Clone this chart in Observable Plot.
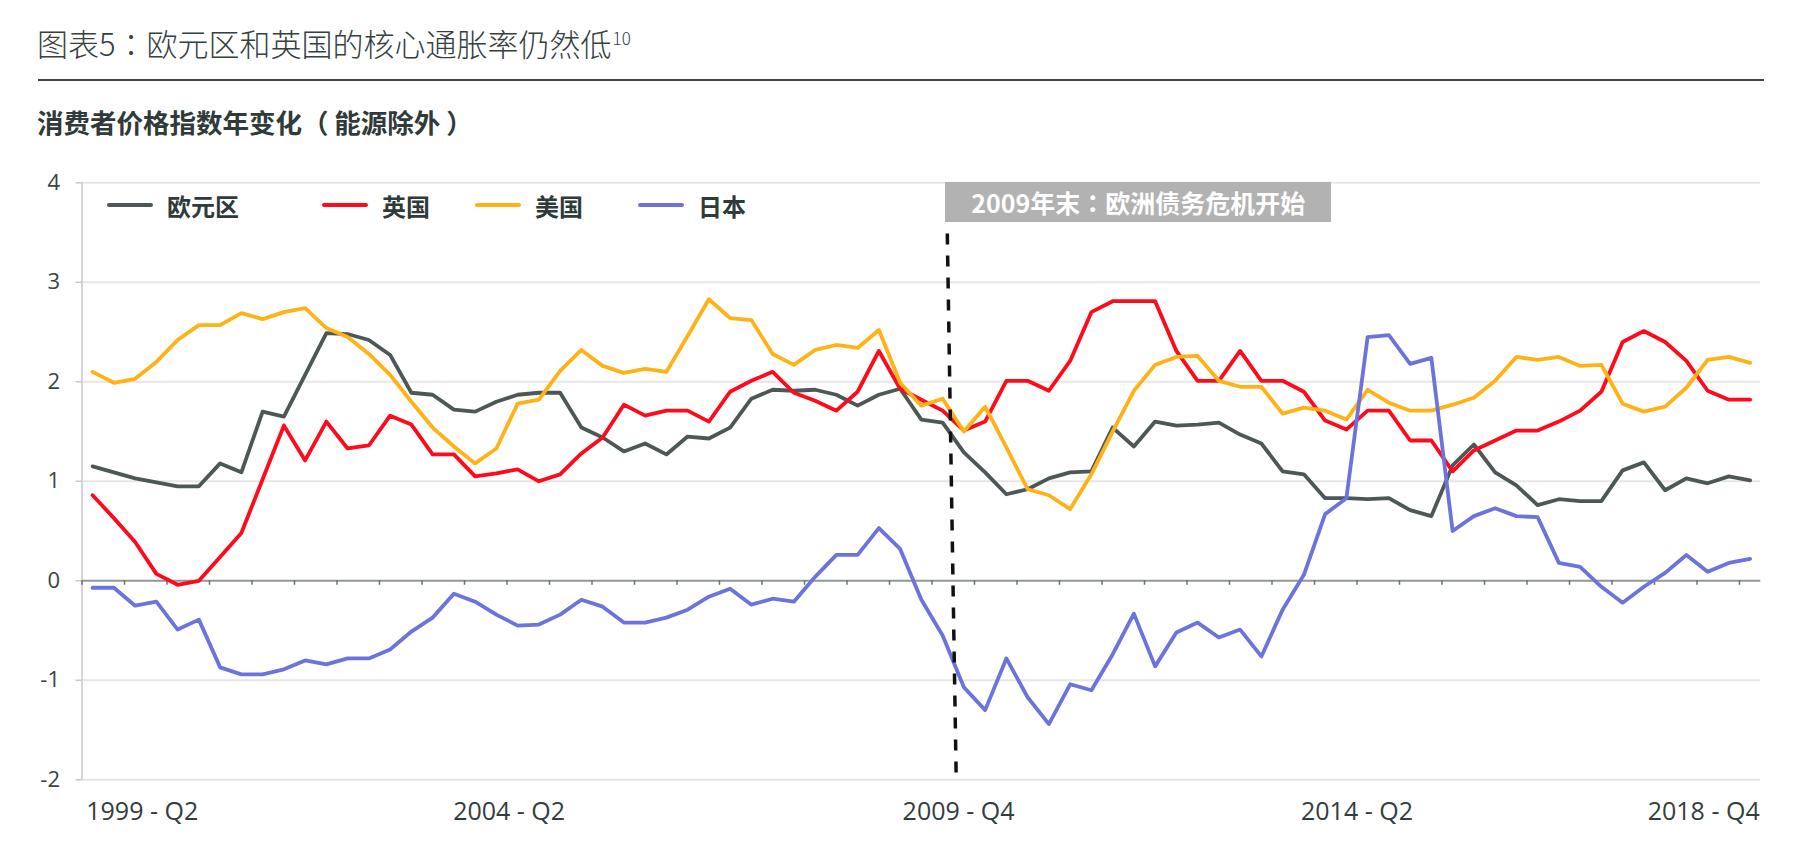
<!DOCTYPE html>
<html>
<head>
<meta charset="utf-8">
<script src="https://cdn.jsdelivr.net/npm/d3@7"></script>
<script src="https://cdn.jsdelivr.net/npm/@observablehq/plot@0.6"></script>
<style>
  html, body { margin: 0; padding: 0; background: #fff; }
  body { width: 1801px; height: 851px; overflow: hidden; position: relative; font-family: "Noto Sans CJK SC", sans-serif; }
  #title { position: absolute; left: 37px; top: 26px; font-size: 31px; font-weight: 300; color: #35403f; line-height: 34px; white-space: nowrap; }
  #title sup { font-size: 17px; vertical-align: top; position: relative; top: -5px; margin-left: 1px; }
  #rule { position: absolute; left: 38px; top: 79px; width: 1726px; height: 2px; background: #3c4747; }
  #subtitle { position: absolute; left: 37px; top: 106px; font-size: 26.5px; font-weight: 700; color: #2f3a3a; line-height: 32px; white-space: nowrap; }
  #chart { position: absolute; left: 0; top: 140px; }
  .lg { position: absolute; display: flex; align-items: center; height: 34px; font-size: 24px; font-weight: 700; color: #2f3a3a; white-space: nowrap; }
  .lg .sw { width: 46px; height: 4.5px; border-radius: 2px; margin-right: 14px; }
  #note { position: absolute; background: #b2b2b2; color: #fff; font-weight: 700; font-size: 25px; height: 40px; line-height: 40px; width: 386px; text-align: center; white-space: nowrap; }
  .tc { font-family: "Noto Sans CJK TC", "Noto Sans CJK SC", sans-serif; }
  .lp { margin-right: 0.22em; }
  .rp { margin-left: 0.22em; }
</style>
</head>
<body>
<div id="title"></div>
<div id="rule"></div>
<div id="subtitle"></div>
<div id="chart"></div>
<script>
// ---------- data ----------
const title = "图表5：欧元区和英国的核心通胀率仍然低";
const titleNote = "10";
const subtitle = "消费者价格指数年变化（能源除外）";

const quarters = [
  "1999 - Q2","1999 - Q3","1999 - Q4",
  "2000 - Q1","2000 - Q2","2000 - Q3","2000 - Q4",
  "2001 - Q1","2001 - Q2","2001 - Q3","2001 - Q4",
  "2002 - Q1","2002 - Q2","2002 - Q3","2002 - Q4",
  "2003 - Q1","2003 - Q2","2003 - Q3","2003 - Q4",
  "2004 - Q1","2004 - Q2","2004 - Q3","2004 - Q4",
  "2005 - Q1","2005 - Q2","2005 - Q3","2005 - Q4",
  "2006 - Q1","2006 - Q2","2006 - Q3","2006 - Q4",
  "2007 - Q1","2007 - Q2","2007 - Q3","2007 - Q4",
  "2008 - Q1","2008 - Q2","2008 - Q3","2008 - Q4",
  "2009 - Q1","2009 - Q2","2009 - Q3","2009 - Q4",
  "2010 - Q1","2010 - Q2","2010 - Q3","2010 - Q4",
  "2011 - Q1","2011 - Q2","2011 - Q3","2011 - Q4",
  "2012 - Q1","2012 - Q2","2012 - Q3","2012 - Q4",
  "2013 - Q1","2013 - Q2","2013 - Q3","2013 - Q4",
  "2014 - Q1","2014 - Q2","2014 - Q3","2014 - Q4",
  "2015 - Q1","2015 - Q2","2015 - Q3","2015 - Q4",
  "2016 - Q1","2016 - Q2","2016 - Q3","2016 - Q4",
  "2017 - Q1","2017 - Q2","2017 - Q3","2017 - Q4",
  "2018 - Q1","2018 - Q2","2018 - Q3","2018 - Q4"
];

const seriesNames = ["欧元区", "英国", "美国", "日本"];
const seriesColors = ["#4e5757", "#ff0a1c", "#ffb216", "#6c74dc"];

const euroArea = [
  1.15, 1.09, 1.03, 0.99, 0.95, 0.95, 1.18, 1.09, 1.70, 1.65, 2.07, 2.49, 2.48, 2.42, 2.27, 1.89, 1.87, 1.72, 1.70, 1.80,
  1.87, 1.89, 1.89, 1.54, 1.44, 1.30, 1.38, 1.27, 1.45, 1.43, 1.54, 1.83, 1.92, 1.91, 1.92, 1.87, 1.76, 1.87, 1.93, 1.62,
  1.59, 1.29, 1.09, 0.87, 0.92, 1.03, 1.09, 1.10, 1.54, 1.35, 1.60, 1.56, 1.57, 1.59, 1.47, 1.38, 1.10, 1.07, 0.83, 0.83,
  0.82, 0.83, 0.71, 0.65, 1.16, 1.37, 1.09, 0.96, 0.76, 0.82, 0.80, 0.80, 1.11, 1.19, 0.91, 1.03, 0.98, 1.05, 1.01
];
const uk = [
  0.86, 0.63, 0.39, 0.07, -0.04, 0.00, 0.24, 0.48, 1.02, 1.56, 1.21, 1.60, 1.33, 1.36, 1.66, 1.57, 1.27, 1.27, 1.05, 1.08,
  1.12, 1.00, 1.07, 1.28, 1.44, 1.77, 1.66, 1.71, 1.71, 1.60, 1.90, 2.01, 2.10, 1.89, 1.81, 1.71, 1.90, 2.31, 1.93, 1.82,
  1.71, 1.51, 1.60, 2.01, 2.01, 1.91, 2.21, 2.70, 2.81, 2.81, 2.81, 2.31, 2.01, 2.01, 2.31, 2.01, 2.01, 1.90, 1.61, 1.52,
  1.71, 1.71, 1.41, 1.41, 1.10, 1.31, 1.41, 1.51, 1.51, 1.60, 1.71, 1.90, 2.40, 2.51, 2.40, 2.21, 1.91, 1.82, 1.82
];
const us = [
  2.10, 1.99, 2.03, 2.20, 2.42, 2.57, 2.57, 2.69, 2.63, 2.70, 2.74, 2.54, 2.45, 2.28, 2.07, 1.80, 1.54, 1.35, 1.18, 1.33,
  1.78, 1.82, 2.11, 2.32, 2.16, 2.09, 2.13, 2.10, 2.46, 2.83, 2.64, 2.62, 2.28, 2.17, 2.32, 2.37, 2.34, 2.52, 1.99, 1.76,
  1.83, 1.50, 1.75, 1.34, 0.92, 0.86, 0.72, 1.07, 1.50, 1.91, 2.17, 2.25, 2.26, 2.01, 1.95, 1.95, 1.68, 1.74, 1.71, 1.62,
  1.92, 1.79, 1.71, 1.71, 1.77, 1.84, 2.01, 2.25, 2.22, 2.25, 2.16, 2.17, 1.78, 1.70, 1.75, 1.94, 2.22, 2.25, 2.19
];
const japan = [
  -0.07, -0.07, -0.25, -0.21, -0.49, -0.39, -0.87, -0.94, -0.94, -0.89, -0.80, -0.84, -0.78, -0.78, -0.69, -0.51, -0.37, -0.13, -0.21, -0.34,
  -0.45, -0.44, -0.34, -0.19, -0.26, -0.42, -0.42, -0.37, -0.29, -0.16, -0.08, -0.24, -0.18, -0.21, 0.04, 0.26, 0.26, 0.53, 0.32, -0.19,
  -0.55, -1.07, -1.30, -0.78, -1.17, -1.44, -1.04, -1.10, -0.74, -0.33, -0.86, -0.52, -0.42, -0.57, -0.49, -0.76, -0.29, 0.06, 0.67, 0.83,
  2.45, 2.47, 2.18, 2.24, 0.50, 0.65, 0.73, 0.65, 0.64, 0.18, 0.14, -0.06, -0.22, -0.06, 0.08, 0.26, 0.09, 0.18, 0.22
];

const yTicks = [-2, -1, 0, 1, 2, 3, 4];
const xTickLabels = ["1999 - Q2", "2004 - Q2", "2009 - Q4", "2014 - Q2", "2018 - Q4"];
// label positions on the quarter-index axis
const xTickAt = [-0.3, 19.6, 40.75, 59.5, 78.45];

const crisisLabel = "2009年末：欧洲债务危机开始";
const crisisX = [40.22, 40.64];   // quarter index of the marker at its top and bottom
const crisisY = [3.49, -2];

// ---------- build ----------
// full-width punctuation given space on both sides, as in the original
const punct = s => s
  .replace(/：/g, '<span class="tc">：</span>')
  .replace(/（/g, '<span class="lp">（</span>')
  .replace(/）/g, '<span class="rp">）</span>');
document.getElementById("title").innerHTML = punct(title) + "<sup>" + titleNote + "</sup>";
document.getElementById("subtitle").innerHTML = punct(subtitle);

const allSeries = [euroArea, uk, us, japan];
const rows = [];
allSeries.forEach((vals, s) => vals.forEach((v, i) => rows.push({i, q: quarters[i], v, s: seriesNames[s]})));

const n = quarters.length;
const catTicks = d3.range(-0.5, n - 1, 2);
const xLabels = xTickLabels.map((t, k) => ({t, x: xTickAt[k], k}));

const W = 1801, H = 711;
const chart = Plot.plot({
  width: W, height: H,
  marginLeft: 81.5, marginRight: 40.75, marginTop: 42.3, marginBottom: 71.7,
  x: {type: "linear", domain: [-0.5, n - 0.5], axis: null},
  y: {domain: [-2, 4], axis: null},
  style: {background: "transparent", fontFamily: "'Open Sans', 'Noto Sans CJK SC', sans-serif", overflow: "visible"},
  marks: [
    Plot.ruleY(yTicks.filter(d => d !== 0), {stroke: "#e6e6e6", strokeWidth: 2}),
    Plot.ruleX([-0.5], {stroke: "#c8c8c8", strokeWidth: 1.5}),
    Plot.axisY({ticks: yTicks, tickSize: 6, tickPadding: 16, stroke: "#c8c8c8", strokeWidth: 1.5, fontSize: 22, fill: "#3a4444", label: null, tickFormat: d => String(d)}),
    Plot.ruleY([0], {stroke: "#909898", strokeWidth: 2}),
    Plot.ruleX(catTicks, {y1: 0, y2: -0.045, stroke: "#6a7272", strokeWidth: 1.5}),
    ...seriesNames.map((name, s) => Plot.line(rows.filter(r => r.s === name), {
      x: "i", y: "v", stroke: seriesColors[s], strokeWidth: 3.8, strokeLinejoin: "round", strokeLinecap: "round"
    })),
    Plot.link([{x1: crisisX[0], y1: crisisY[0], x2: crisisX[1], y2: crisisY[1]}], {
      x1: "x1", y1: "y1", x2: "x2", y2: "y2", stroke: "#111", strokeWidth: 3.5, strokeDasharray: "11,11"
    }),
    Plot.text(xLabels.filter(d => d.k === 0), {x: "x", y: () => -2, text: "t", textAnchor: "start", dy: 32, fontSize: 25, fill: "#333d3d"}),
    Plot.text(xLabels.filter(d => d.k > 0 && d.k < xLabels.length - 1), {x: "x", y: () => -2, text: "t", textAnchor: "middle", dy: 32, fontSize: 25, fill: "#333d3d"}),
    Plot.text(xLabels.filter(d => d.k === xLabels.length - 1), {x: "x", y: () => -2, text: "t", textAnchor: "end", dy: 32, fontSize: 25, fill: "#333d3d"})
  ]
});
document.getElementById("chart").appendChild(chart);

// ---------- overlays positioned from the plot's own scales ----------
const xs = chart.scale("x"), ys = chart.scale("y");
const sx = v => xs.apply ? xs.apply(v) : xs.range[0] + (v - xs.domain[0]) / (xs.domain[1] - xs.domain[0]) * (xs.range[1] - xs.range[0]);
const sy = v => ys.apply ? ys.apply(v) : ys.range[0] + (v - ys.domain[0]) / (ys.domain[1] - ys.domain[0]) * (ys.range[1] - ys.range[0]);
const top0 = 140;

const note = document.createElement("div");
note.id = "note";
note.innerHTML = punct(crisisLabel);
note.style.left = (sx(crisisX[0]) - 1.5) + "px";
note.style.top = (top0 + sy(4)) + "px";
document.body.appendChild(note);

const legendLeft = [107, 322, 475, 638];
seriesNames.forEach((name, s) => {
  const d = document.createElement("div");
  d.className = "lg";
  d.style.left = legendLeft[s] + "px";
  d.style.top = "188px";
  const sw = document.createElement("span");
  sw.className = "sw";
  sw.style.background = seriesColors[s];
  const t = document.createElement("span");
  t.textContent = name;
  d.appendChild(sw); d.appendChild(t);
  document.body.appendChild(d);
});
</script>
</body>
</html>
